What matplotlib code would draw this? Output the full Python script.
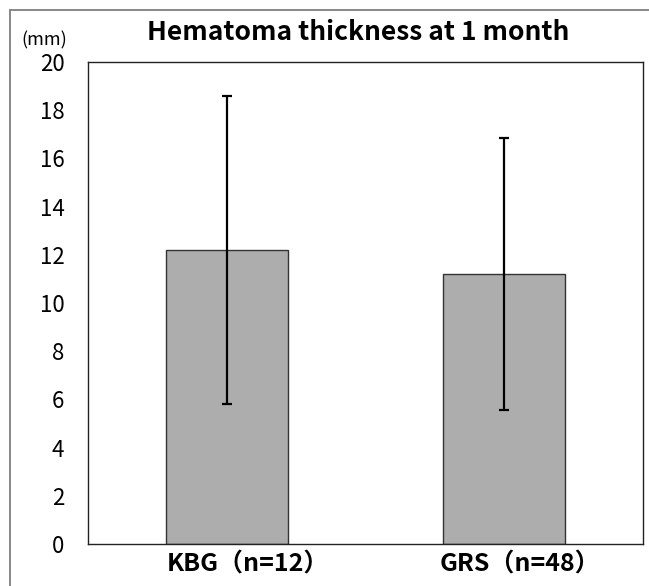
import matplotlib.pyplot as plt
from matplotlib.patches import Rectangle
import matplotlib.transforms as mtransforms
import numpy as np

plt.rcParams['font.family'] = ['Noto Sans CJK JP', 'DejaVu Sans']

groups = ["KBG（n=12）", "GRS（n=48）"]
means = [12.2, 11.2]
sds = [6.4, 5.65]
yticks = np.arange(0, 21, 2)

fig = plt.figure(figsize=(6.49, 5.86), dpi=100)
ax = fig.add_axes([88/649, 42/586, 555/649, 482/586])

x = np.arange(len(groups))
ax.bar(x, means, 0.44, color='#adadad', edgecolor='#333333', linewidth=1.0, zorder=2)
ax.errorbar(x, means, yerr=sds, fmt='none', ecolor='black', elinewidth=1.6,
            capsize=3.3, capthick=1.6, zorder=3)

ax.set_xlim(-0.5, 1.5)
ax.set_ylim(0, 20)
ax.set_yticks(yticks)
ax.tick_params(axis='y', length=0, pad=17, labelsize=16)
ax.tick_params(axis='x', length=0, pad=6)
ax.set_xticks(x)
ax.set_xticklabels(groups, fontsize=18, fontweight='bold')
# labels sit a bit right of the bar centres in the original
for lab, dx in zip(ax.get_xticklabels(), [21, 16]):
    lab.set_transform(lab.get_transform() + mtransforms.ScaledTranslation(dx/100, 0, fig.dpi_scale_trans))

for s in ax.spines.values():
    s.set_linewidth(1.0)
    s.set_color('#222222')

fig.text(358/649, 1 - 33/586, 'Hematoma thickness at 1 month', ha='center', va='center',
         fontsize=19, fontweight='bold')
fig.text(44/649, 1 - 40/586, '(mm)', ha='center', va='center', fontsize=13)

# outer frame, only left and top edges show
fig.patches.append(Rectangle((10/649, -0.1), 1.2, 1.1 - 10/586, transform=fig.transFigure,
                             fill=False, edgecolor='#7f7f7f', linewidth=1.3))

fig.savefig('out.png', dpi=100)
